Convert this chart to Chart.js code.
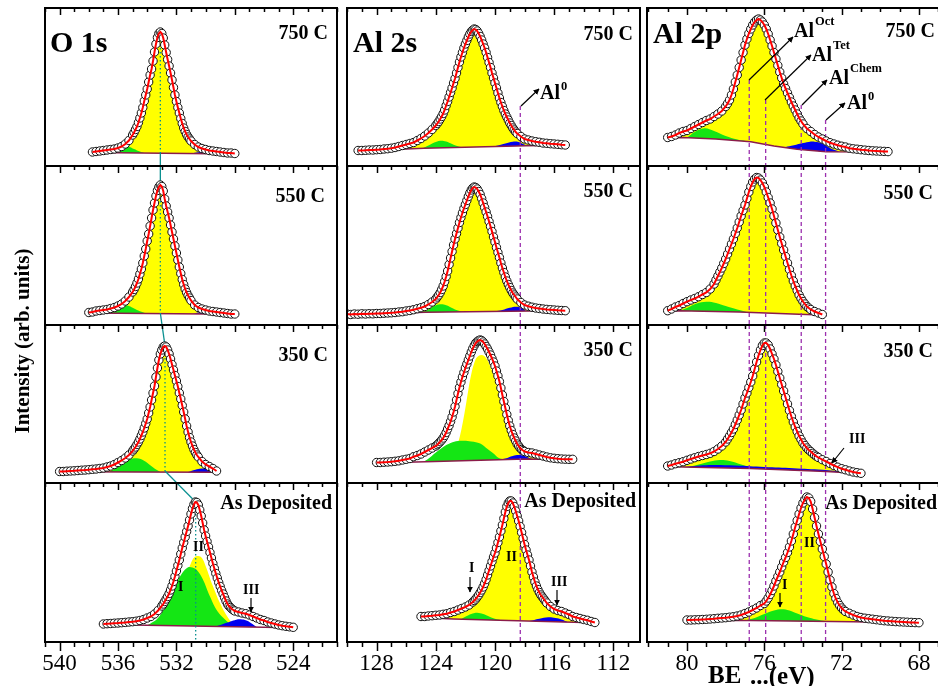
<!DOCTYPE html>
<html>
<head>
<meta charset="utf-8">
<title>XPS O 1s / Al 2s / Al 2p</title>
<script src="https://cdn.jsdelivr.net/npm/chart.js@4.4.0/dist/chart.umd.min.js"></script>
<style>
  body { margin: 0; background: #fff; overflow: hidden; }
  #fig { position: relative; width: 938px; height: 686px; overflow: hidden; background: #fff;
         font-family: "Liberation Serif", "Times New Roman", serif; }
  #fig canvas { position: absolute; }
  .t { position: absolute; font-weight: bold; line-height: 1; white-space: nowrap; color: #000; font-size: 20px; z-index: 5; }
  .n { font-size: 14px; }
  .sup { font-size: 12.5px; position: relative; margin-left: 1px; }
</style>
</head>
<body>
<div id="fig">
  <div class="t" style="left:50px;top:27px;font-size:30px">O 1s</div>
  <div class="t" style="left:353px;top:27px;font-size:30px">Al 2s</div>
  <div class="t" style="left:653px;top:18px;font-size:30px">Al 2p</div>

  <div class="t" style="right:610px;top:21.5px">750 C</div>
  <div class="t" style="right:305px;top:22.5px">750 C</div>
  <div class="t" style="right:3px;top:20px">750 C</div>
  <div class="t" style="right:613px;top:184.5px">550 C</div>
  <div class="t" style="right:305px;top:179.5px">550 C</div>
  <div class="t" style="right:5px;top:181.5px">550 C</div>
  <div class="t" style="right:610px;top:343.5px">350 C</div>
  <div class="t" style="right:305px;top:338.5px">350 C</div>
  <div class="t" style="right:5px;top:339.5px">350 C</div>
  <div class="t" style="right:606px;top:491.5px">As Deposited</div>
  <div class="t" style="right:302px;top:489.5px">As Deposited</div>
  <div class="t" style="right:1px;top:491.5px">As Deposited</div>

  <div class="t" style="left:540px;top:81.5px">Al<span class="sup" style="top:-9px">0</span></div>
  <div class="t" style="left:794px;top:19.5px">Al<span class="sup" style="top:-11.5px">Oct</span></div>
  <div class="t" style="left:812px;top:43.5px">Al<span class="sup" style="top:-12px">Tet</span></div>
  <div class="t" style="left:829px;top:66.5px">Al<span class="sup" style="top:-12px">Chem</span></div>
  <div class="t" style="left:847px;top:91.5px">Al<span class="sup" style="top:-9px">0</span></div>

  <div class="t n" style="left:193px;top:539.5px">II</div>
  <div class="t n" style="left:178px;top:579.5px">I</div>
  <div class="t n" style="left:243px;top:582.5px">III</div>
  <div class="t n" style="left:469px;top:560.5px">I</div>
  <div class="t n" style="left:506px;top:549.5px">II</div>
  <div class="t n" style="left:551px;top:574.5px">III</div>
  <div class="t n" style="left:804px;top:535.5px">II</div>
  <div class="t n" style="left:782px;top:577.5px">I</div>
  <div class="t n" style="left:849px;top:431.5px">III</div>

  <div class="t" style="left:22px;top:341px;font-size:21px;transform:translate(-50%,-50%) rotate(-90deg)">Intensity (arb. units)</div>
  <div class="t" style="left:708px;top:662px;font-size:25px">BE</div>
  <div class="t" style="left:750px;top:662.5px;font-size:25px">...(eV)</div>

  <svg width="938" height="686" style="position:absolute;left:0;top:0;z-index:4">
    <defs>
      <marker id="ah" viewBox="0 0 10 10" refX="9" refY="5" markerWidth="5" markerHeight="5" orient="auto">
        <path d="M0,0 L10,5 L0,10 z" fill="#000"/>
      </marker>
    </defs>
    <g stroke="#000" stroke-width="1.2" marker-end="url(#ah)">
      <line x1="521" y1="106" x2="539" y2="89"/>
      <line x1="749" y1="80" x2="793" y2="37"/>
      <line x1="765" y1="100" x2="811" y2="55"/>
      <line x1="802" y1="105" x2="827" y2="80"/>
      <line x1="826" y1="120" x2="845" y2="103"/>
      <line x1="251" y1="598" x2="251" y2="612"/>
      <line x1="470" y1="577" x2="470" y2="592"/>
      <line x1="557" y1="590" x2="557" y2="605"/>
      <line x1="780" y1="593" x2="780" y2="607"/>
      <line x1="844" y1="448" x2="832" y2="463"/>
    </g>
  </svg>
</div>
<script>
// binding energy grids (eV): coarse over the whole scan, fine over the peak flanks
const O1S_E = [540, 539.75, 539.5, 539.25, 539, 538.75, 538.5, 538.25, 538, 537.75, 537.5, 537.25, 537, 536.75, 536.5, 536.25,
  536, 535.75, 535.5, 535.25, 535, 534.75, 534.5, 534.25, 534, 533.75, 533.5, 533.25, 533, 532.75, 532.5, 532.25, 532, 531.75,
  531.5, 531.25, 531, 530.75, 530.5, 530.25, 530, 529.75, 529.5, 529.25, 529, 528.75, 528.5, 528.25, 528, 527.75, 527.5, 527.25,
  527, 526.75, 526.5, 526.25, 526, 525.75, 525.5, 525.25, 525, 524.75, 524.5, 524.25, 524];
const O1S_FINE_E = [535, 534.9, 534.8, 534.7, 534.6, 534.5, 534.4, 534.3, 534.2, 534.1, 534, 533.9, 533.8, 533.7, 533.6, 533.5,
  533.4, 533.3, 533.2, 533.1, 533, 532.9, 532.8, 532.7, 532.6, 532.5, 532.4, 532.3, 532.2, 532.1, 532, 531.9, 531.8, 531.7, 531.6,
  531.5, 531.4, 531.3, 531.2, 531.1, 531, 530.9, 530.8, 530.7, 530.6, 530.5, 530.4, 530.3, 530.2, 530.1, 530, 529.9, 529.8, 529.7,
  529.6, 529.5, 529.4, 529.3, 529.2, 529.1, 529, 528.9, 528.8, 528.7, 528.6, 528.5, 528.4, 528.3, 528.2, 528.1, 528];
const AL2S_E = [130, 129.75, 129.5, 129.25, 129, 128.75, 128.5, 128.25, 128, 127.75, 127.5, 127.25, 127, 126.75, 126.5, 126.25,
  126, 125.75, 125.5, 125.25, 125, 124.75, 124.5, 124.25, 124, 123.75, 123.5, 123.25, 123, 122.75, 122.5, 122.25, 122, 121.75,
  121.5, 121.25, 121, 120.75, 120.5, 120.25, 120, 119.75, 119.5, 119.25, 119, 118.75, 118.5, 118.25, 118, 117.75, 117.5, 117.25,
  117, 116.75, 116.5, 116.25, 116, 115.75, 115.5, 115.25, 115, 114.75, 114.5, 114.25, 114, 113.75, 113.5, 113.25, 113];
const AL2S_FINE_E = [124, 123.9, 123.8, 123.7, 123.6, 123.5, 123.4, 123.3, 123.2, 123.1, 123, 122.9, 122.8, 122.7, 122.6, 122.5,
  122.4, 122.3, 122.2, 122.1, 122, 121.9, 121.8, 121.7, 121.6, 121.5, 121.4, 121.3, 121.2, 121.1, 121, 120.9, 120.8, 120.7, 120.6,
  120.5, 120.4, 120.3, 120.2, 120.1, 120, 119.9, 119.8, 119.7, 119.6, 119.5, 119.4, 119.3, 119.2, 119.1, 119, 118.9, 118.8, 118.7,
  118.6, 118.5, 118.4, 118.3, 118.2, 118.1, 118, 117.9, 117.8, 117.7, 117.6, 117.5, 117.4, 117.3, 117.2, 117.1, 117, 116.9, 116.8,
  116.7, 116.6, 116.5];
const AL2P_E = [81, 80.8, 80.6, 80.4, 80.2, 80, 79.8, 79.6, 79.4, 79.2, 79, 78.8, 78.6, 78.4, 78.2, 78, 77.8, 77.6, 77.4, 77.2,
  77, 76.8, 76.6, 76.4, 76.2, 76, 75.8, 75.6, 75.4, 75.2, 75, 74.8, 74.6, 74.4, 74.2, 74, 73.8, 73.6, 73.4, 73.2, 73, 72.8, 72.6,
  72.4, 72.2, 72, 71.8, 71.6, 71.4, 71.2, 71, 70.8, 70.6, 70.4, 70.2, 70, 69.8, 69.6, 69.4, 69.2, 69, 68.8, 68.6, 68.4, 68.2, 68];
const AL2P_FINE_E = [78.6, 78.5, 78.4, 78.3, 78.2, 78.1, 78, 77.9, 77.8, 77.7, 77.6, 77.5, 77.4, 77.3, 77.2, 77.1, 77, 76.9, 76.8,
  76.7, 76.6, 76.5, 76.4, 76.3, 76.2, 76.1, 76, 75.9, 75.8, 75.7, 75.6, 75.5, 75.4, 75.3, 75.2, 75.1, 75, 74.9, 74.8, 74.7, 74.6,
  74.5, 74.4, 74.3, 74.2, 74.1, 74, 73.9, 73.8, 73.7, 73.6, 73.5, 73.4, 73.3, 73.2, 73.1, 73, 72.9, 72.8, 72.7, 72.6, 72.5, 72.4,
  72.3, 72.2, 72.1, 72, 71.9, 71.8];

const O1S_TICKS = [540, 536, 532, 528, 524];
const AL2S_TICKS = [128, 124, 120, 116, 112];
const AL2P_TICKS = [80, 76, 72, 68];

// measured spectra (intensity, arb. units): coarse scan and fine peak region, each from the given energy
const O1S_750_FROM = 537.75;
const O1S_750 = [14, 14.5, 15, 15.5, 16, 16.5, 17, 18, 19.5, 22, 25.5, 31, 38, 48, 61, 77, 95, 114, 131, 133, 118, 100, 82, 65,
  50, 38, 30, 25, 21.5, 19, 17.5, 16.5, 15.5, 15, 14.5, 14, 13.5, 13, 13, 12.5];
const O1S_750_CORE_FROM = 535;
const O1S_750_CORE = [31, 33.5, 36.5, 39.5, 43.5, 48, 53, 58.5, 65, 71, 77, 84, 91, 97, 105, 114, 122, 128.5, 132.5, 134, 132.5,
  128, 121, 113.5, 106.5, 100, 93, 86, 78.5, 71, 64.5, 58.5, 53, 47.5, 42.5, 38, 34.5, 31.5, 29, 27, 25];
const O1S_550_FROM = 538;
const O1S_550 = [12.5, 13, 14, 14.5, 15, 15.5, 16.5, 17.5, 19, 21, 24, 28, 33, 40, 51, 66, 84, 103, 122, 135, 139, 122, 109, 93,
  75, 57, 42, 31, 24, 20, 17.5, 16, 15, 14, 13.5, 13, 12.5, 12, 11.5, 11, 11];
const O1S_550_CORE_FROM = 535;
const O1S_550_CORE = [33, 35.5, 38.5, 42, 46, 51, 56, 62, 69, 76, 84, 91, 99, 107, 115, 122, 129, 134.5, 138, 140, 138.5, 134,
  126, 119, 113, 107, 100, 93, 86, 79, 72, 65, 58, 51.5, 45.5, 40.5, 36, 32.5, 29.5, 27, 24.5];
const O1S_350_FROM = 540;
const O1S_350 = [11.5, 11.5, 11.8, 12, 12.2, 12.5, 12.8, 13, 13.3, 13.7, 14, 14.5, 15, 16, 17, 18.5, 20.5, 22.5, 25, 28, 32, 37,
  44, 53, 64, 79, 96, 120, 132, 137, 128, 116, 102, 88, 71, 54, 41, 32, 26, 21.5, 18.5, 16.5, 14.5, 12];
const O1S_350_CORE_FROM = 535;
const O1S_350_CORE = [32, 34, 36, 38.5, 41, 44, 47.5, 51, 55, 59.5, 64, 70, 76, 83, 90, 97, 106, 115, 123, 129, 133, 136, 137,
  136, 133, 129, 124, 118.5, 113, 107.5, 102, 96.5, 90, 84, 77.5, 71, 64, 57, 51, 45.5, 41, 37, 33.5, 30.5, 28, 26];
const O1S_AD_FROM = 537;
const O1S_AD = [18, 18.3, 18.5, 18.8, 19, 19.3, 19.6, 20, 20.3, 20.8, 21.5, 22.5, 24, 25.5, 28, 31.5, 36, 41.5, 48.5, 58, 71, 85,
  99, 112, 128, 139, 138, 124, 106, 92, 78, 66, 56, 46, 38, 33.5, 31, 30, 29, 28.3, 27, 25.5, 24, 22.5, 21.5, 20, 19, 18, 17,
  16.3, 15.7, 15.2, 14.7];
const O1S_AD_CORE_FROM = 533;
const O1S_AD_CORE = [36, 38, 40.5, 43, 45.5, 48.5, 52, 56, 60.5, 65.5, 71, 76.5, 82, 88, 94, 99.5, 105, 110.5, 116, 122, 128,
  133.5, 137.5, 140, 139.5, 137, 132, 126, 119, 112, 106, 100.5, 95, 89.5, 84, 78.5, 73.5, 68.5, 64, 59.5, 55.5, 51.5, 48, 44.5,
  41, 38, 36, 34.5, 33, 32, 31];

const AL2S_750_FROM = 129.25;
const AL2S_750 = [15.5, 15.5, 15.7, 16, 16, 16.3, 16.5, 17, 17.3, 17.8, 18.5, 19.5, 20.5, 21.5, 22.5, 23.5, 25.5, 27.5, 30, 33,
  36.5, 40.5, 45, 52, 62, 74, 85, 98, 111, 121, 130, 135, 136, 130, 122, 113, 97, 83, 70, 60, 50, 43, 37, 32.5, 29.5, 27, 26, 25,
  24.3, 23.7, 23, 22.7, 22.3, 22, 21.7, 21.3, 21];
const AL2S_750_CORE_FROM = 124;
const AL2S_750_CORE = [40.5, 42.5, 44.5, 47, 49.5, 52.5, 56, 60.5, 64.5, 69, 73.5, 78, 83, 87.5, 93, 98.5, 104, 109, 113.5, 118,
  122, 125.5, 129, 132, 134.5, 136, 137, 136.5, 135, 132.5, 129.5, 126, 122, 118, 113.5, 108.5, 103.5, 98.5, 93, 88, 83, 78, 73,
  68, 63.5, 59.5, 55.5, 52, 49, 46, 43, 40.5, 38, 36, 34, 32.5];
const AL2S_550_FROM = 130;
const AL2S_550 = [11, 10.5, 11, 10.8, 11.2, 11, 11.3, 11.2, 11.5, 11.5, 11.8, 12, 12.2, 12.5, 13, 13.3, 14, 14.5, 15.3, 16.3,
  17.3, 18.5, 20.5, 23, 26, 31, 39, 51, 67, 83, 97, 110, 120, 130, 136, 137, 131, 121, 109, 96, 83, 70, 57, 46, 37.5, 31, 26,
  22.5, 20, 18.8, 17.8, 17, 16.5, 16, 15.6, 15.3, 15, 14.7, 14.5, 14.3];
const AL2S_550_CORE_FROM = 124;
const AL2S_550_CORE = [26, 28, 30, 32.5, 35.5, 39, 43.5, 48.5, 54, 60.5, 67, 73.5, 80, 86, 91.5, 97, 102.5, 107.5, 112, 116.5,
  120.5, 124.5, 128.5, 132, 135, 137, 138, 137.5, 136, 133.5, 130.5, 126.5, 122, 117.5, 113, 108.5, 103.5, 98.5, 93.5, 88, 83,
  77.5, 72.5, 67.5, 62, 57, 52.5, 48, 44, 40.5, 37.5, 34.5, 32, 30, 28, 26];
const AL2S_350_FROM = 128;
const AL2S_350 = [20.5, 20.5, 20.8, 21, 21.3, 21.7, 22.2, 23, 23.7, 24.5, 26.3, 27.5, 29, 31, 33, 35, 37, 40.5, 45, 52, 61, 72,
  89, 103, 114, 125, 134, 140, 143, 140, 134, 127, 117, 105, 87, 72, 57, 46, 38, 33.5, 31.5, 30.5, 30, 29, 28, 27, 26, 25.2, 24.7,
  24.3, 24, 23.8, 23.7, 23.7];
const AL2S_350_CORE_FROM = 124;
const AL2S_350_CORE = [37, 38.3, 39.7, 41.3, 43, 45, 47.5, 50.5, 54, 57.5, 61.5, 66, 71, 76.5, 83, 89.5, 95.5, 101, 106, 110.5,
  115, 119, 123, 127, 131, 134.5, 137.5, 140, 141.5, 142.5, 143, 142.5, 141, 139, 136.5, 134, 131, 128, 124.5, 121, 117, 112,
  107, 101.5, 95, 88, 81.5, 75, 68.5, 62.5, 57, 52.5, 48.5, 45, 42, 39, 37, 35, 33.5, 32.5, 31.5];
const AL2S_AD_FROM = 125;
const AL2S_AD = [25.5, 25.5, 26, 26.3, 26.7, 27, 27.7, 28.3, 29.5, 30.5, 32, 33.5, 35, 37, 40, 44, 49, 57, 67, 78, 89, 102, 118,
  133, 141, 138, 126, 113, 97, 85, 70, 58, 50, 44, 39, 35.5, 33, 31.5, 30.5, 29, 27.5, 25.5, 24.5, 23.5, 22.5, 21.7, 20.5, 19.5];
const AL2S_AD_CORE_FROM = 121.5;
const AL2S_AD_CORE = [40, 41.5, 43, 45, 47, 49.5, 52, 55, 58.5, 62.5, 67, 71.5, 76, 80.5, 85, 89, 94, 99.5, 105, 111, 117, 123.5,
  130, 135.5, 139, 141, 141, 139, 135.5, 131, 126, 121, 115.5, 109.5, 103.5, 97.5, 92, 87, 82, 76, 70, 65, 60, 56, 52.5, 49.5,
  47, 45, 43, 41, 39];

const AL2P_750_FROM = 81;
const AL2P_750 = [28.5, 29.5, 31, 33, 34.5, 35.5, 37.5, 39.5, 41.5, 43.5, 45.5, 47, 49.5, 52, 55, 59.5, 66, 77, 91, 106, 121,
  132, 141, 146, 146, 141, 132, 120, 107, 94, 82, 73, 64, 56, 48, 42, 37.5, 34.5, 31.5, 29, 27, 25, 23.3, 22, 20.8, 19.8, 19,
  17.8, 17.2, 16.8, 16.3, 15.9, 15.5, 15.2, 15, 14.8, 14.6, 14.4];
const AL2P_750_CORE_FROM = 78;
const AL2P_750_CORE = [59.5, 62.5, 66, 71, 77, 84, 91, 98.5, 106, 113.5, 121, 127, 132.5, 137, 141, 144, 146, 147, 146, 144, 141,
  137, 132, 126, 120, 113.5, 107, 100.5, 94, 88, 82, 77.5, 73, 68.5, 64, 60, 56, 52, 48, 45, 42];
const AL2P_550_FROM = 81;
const AL2P_550 = [14.3, 16, 18, 19.5, 21.5, 23.3, 25, 26.5, 28.3, 30.5, 32.5, 36, 41, 49, 57, 66, 76, 86, 97, 109, 120, 133, 143,
  147, 145, 138, 127, 116, 101, 88, 75, 62, 49, 39, 30, 23.5, 18.5, 15.5, 13.5, 12, 10.5];
const AL2P_550_CORE_FROM = 78.6;
const AL2P_550_CORE = [41, 45, 49, 53, 57, 61.5, 66, 71, 76, 81, 86, 91.5, 97, 103, 109, 114.5, 120, 126.5, 133, 138.5, 143, 146,
  147.5, 147, 145, 142, 138, 133, 127.5, 122, 116, 109, 102, 95, 88, 81.5, 75, 68.5, 62, 55.5, 49.5, 44, 39, 34.5, 30, 26.5,
  23.5, 21, 18.5, 17, 15.5];
const AL2P_350_FROM = 81;
const AL2P_350 = [17, 18, 19.3, 20.3, 21.3, 22.7, 24, 25.3, 26.5, 27.5, 28.5, 29.7, 31.5, 34, 37, 41, 47, 54, 63, 73, 85, 95, 107,
  121, 133, 140, 137, 128, 118, 105, 92, 79, 66, 56, 47, 40, 35, 31.5, 28, 25.5, 23.3, 21.5, 19.5, 17.5, 15.8, 14.3, 13.2, 12, 11,
  10.3, 9.7];
const AL2P_350_CORE_FROM = 78;
const AL2P_350_CORE = [41, 44, 47, 50.5, 54, 58.5, 63, 68, 73, 79, 85, 90, 95.5, 101, 107, 114, 121, 127.5, 133, 137.5, 140, 140,
  138, 134, 129, 124, 118, 111.5, 105, 98.5, 92, 85.5, 79, 72.5, 66.5, 61, 56, 51.5, 47, 43.5, 40, 37.5, 35, 33, 31.5, 29.7, 28,
  26.7, 25.5];
const AL2P_AD_FROM = 80;
const AL2P_AD = [22, 22, 22.2, 22.3, 22.5, 22.7, 23, 23.3, 23.7, 24, 24.3, 24.8, 25.3, 26, 27, 28.5, 30, 32, 34, 36.5, 38.5, 44,
  51, 61, 70, 80, 89, 101, 115, 128, 139, 145, 140, 124, 108, 93, 78, 62, 48, 39, 33.5, 30.5, 28.7, 27, 25.5, 24.5, 23.8, 23.3,
  22.8, 22.3, 21.8, 21.3, 21, 20.7, 20.4, 20.2, 20, 19.8, 19.6, 19.4, 19.3];
const AL2P_AD_CORE_FROM = 76;
const AL2P_AD_CORE = [38.5, 41, 44, 47.5, 51.5, 56, 61, 65.5, 70, 75, 80, 84.5, 89.5, 95, 101, 108, 115, 121.5, 128, 134, 139,
  142.5, 145, 144, 140.5, 133, 124.5, 116, 108, 100.5, 93, 85.5, 78, 70, 62, 55, 48.5, 43.5, 39.5, 36.5, 34, 32, 30.5];

// fitted background and components, [energy, intensity]
const O1S_750_BASE = [[537.75, 13.5], [528, 12]];
const O1S_750_GREEN = [[536.7, 13.3], [536.3, 16], [535.95, 19], [535.6, 20.3], [535.25, 19.3], [534.9, 17], [534.55, 14.8], [534.2, 13]];
const O1S_750_BLUE = [[531, 12.5], [530.5, 13.8], [530.1, 14.2], [529.7, 13.6], [529.3, 12.3]];
const O1S_550_BASE = [[538, 12], [528, 10.8]];
const O1S_550_GREEN = [[536.6, 11.8], [536.25, 15.5], [535.95, 18.5], [535.6, 20], [535.25, 19], [534.9, 16.5], [534.5, 13.8], [534.1, 11.7]];
const O1S_550_BLUE = [[530.9, 11.2], [530.4, 12.8], [530, 13], [529.6, 12.3], [529.3, 11.1]];
const O1S_350_BASE = [[540, 11.2], [529.25, 10.8]];
const O1S_350_GREEN = [[536.6, 11.1], [536.2, 14.5], [535.8, 18.5], [535.4, 22.5], [535, 24.5], [534.7, 24.7], [534.3, 23], [533.9, 19], [533.5, 14.5], [533.1, 11]];
const O1S_350_BLUE = [[531.2, 10.9], [530.7, 13.2], [530.3, 14.5], [529.9, 14], [529.5, 12.5], [529.25, 11.5]];
const O1S_AD_BASE = [[537, 17.5], [524, 14.3]];
const O1S_AD_YELLOW = [[533.6, 16.9], [533, 21], [532.5, 27], [532, 38], [531.6, 53], [531.3, 67], [531, 79], [530.75, 85], [530.5, 86],
  [530.25, 84], [530, 76], [529.5, 56], [529, 38.5], [528.45, 24], [528.1, 18], [527.8, 15.8]];
const O1S_AD_GREEN = [[534.2, 16.8], [533.9, 17.5], [533.2, 25], [532.6, 41], [532, 58.5], [531.6, 69], [531.2, 74.7], [530.9, 74.5],
  [530.6, 72], [530.2, 63], [529.7, 45.5], [529.2, 31], [528.6, 21.5], [528.1, 15.3]];
const O1S_AD_BLUE = [[529.3, 15.6], [528.8, 18], [528.3, 20.5], [527.9, 22.3], [527.6, 22.7], [527.2, 21.5], [526.9, 19], [526.5, 14.9]];

const AL2S_750_BASE = [[129.25, 15], [124.8, 17.7], [117.9, 20.3], [115.25, 20.8]];
const AL2S_750_GREEN = [[124.9, 17.6], [124.5, 20.5], [124.1, 23.5], [123.7, 25.3], [123.3, 24.5], [122.9, 22], [122.5, 19.8], [122.1, 18.7]];
const AL2S_750_BLUE = [[120.4, 19.3], [119.8, 20.5], [119.3, 22.5], [118.8, 24.3], [118.4, 24], [118.1, 22], [117.8, 20.3]];
const AL2S_550_BASE = [[130, 10.5], [124.7, 12.8], [117.6, 14], [115.25, 14.1]];
const AL2S_550_GREEN = [[124.9, 12.7], [124.5, 15.5], [124.1, 19], [123.7, 20.7], [123.3, 19.8], [122.9, 17], [122.5, 14.5], [122, 13.2]];
const AL2S_550_BLUE = [[120, 13.5], [119.5, 15], [119, 17.2], [118.55, 18.3], [118.2, 17], [117.9, 14]];
const AL2S_350_BASE = [[128, 20], [124.7, 21.3], [117.9, 24], [114.75, 23.5]];
const AL2S_350_YELLOW = [[123.2, 22], [122.8, 30], [122.5, 40], [122.25, 55], [122, 75], [121.8, 93], [121.6, 109], [121.4, 120],
  [121.2, 126], [120.9, 128], [120.6, 125], [120.3, 116], [120, 104], [119.7, 90], [119.4, 74], [119.1, 57], [118.8, 44], [118.5, 35],
  [118.2, 30], [117.9, 27.5], [117.5, 25.5], [117, 24.5], [116.5, 24], [116, 23.8]];
const AL2S_350_GREEN = [[124.8, 21.3], [124.4, 25.5], [124, 30.5], [123.5, 36], [123, 40], [122.5, 42], [122.1, 42.3], [121.6, 41.5],
  [121, 39.5], [120.5, 34], [120.1, 29.5], [119.8, 25.5], [119.4, 23.4]];
const AL2S_350_BLUE = [[119.9, 23.2], [119.3, 24.5], [118.8, 27], [118.4, 28], [118, 27], [117.5, 24]];
const AL2S_AD_BASE = [[125, 24.5], [122.8, 23], [114.7, 19.7], [113.25, 19.2]];
const AL2S_AD_GREEN = [[122.3, 22.8], [121.9, 26], [121.5, 28.5], [121.2, 29.3], [120.8, 28], [120.4, 25.5], [120, 23.2], [119.6, 21.7]];
const AL2S_AD_BLUE = [[117.7, 20.9], [117, 23.3], [116.4, 24.7], [115.9, 24], [115.5, 22.5], [115.1, 19.9]];

const AL2P_750_BASE = [[81, 28], [80.2, 28.5], [78.5, 27], [76.7, 24.3], [75.5, 20], [74.3, 16.7], [72.8, 14.3], [69.6, 14]];
const AL2P_750_GREEN = [[80, 28.3], [79.6, 34], [79.1, 37.7], [78.6, 35], [78, 30], [77.4, 26.5], [76.8, 24.5]];
const AL2P_750_BLUE = [[75, 18.6], [74.6, 20.2], [74.1, 22.5], [73.7, 24], [73.4, 24.3], [73, 22.5], [72.6, 18], [72.1, 14.2]];
const AL2P_550_BASE = [[81, 14], [80.4, 14.2], [77.3, 13], [74.2, 10.7], [73, 10]];
const AL2P_550_GREEN = [[80.4, 14.2], [80, 17], [79.5, 21.5], [79, 23.3], [78.5, 22], [78, 19], [77.4, 15.5], [76.8, 12.6]];
const AL2P_550_BLUE = [];
const AL2P_350_BASE = [[81, 16.5], [80.2, 16], [76.7, 14.5], [72.8, 11.5], [71, 9.5]];
const AL2P_350_GREEN = [[79.9, 16], [79.4, 18.5], [78.8, 21.5], [78.3, 23], [77.8, 22], [77.2, 18.5], [76.7, 15.5]];
const AL2P_350_BLUE = [[80.2, 16], [79, 17.8], [77.5, 17.5], [76, 16], [74.5, 14.8], [73, 13.2], [72.4, 12.2], [71.8, 10.8]];
const AL2P_AD_BASE = [[80, 21.5], [76.7, 21.5], [71.4, 20.3], [68, 19]];
const AL2P_AD_GREEN = [[77, 21.5], [76.5, 24], [76, 28], [75.5, 31.5], [75.1, 32.7], [74.7, 31.5], [74.3, 28.5], [73.8, 25], [73.3, 22.5], [72.8, 20.8]];
const AL2P_AD_BLUE = [];

// guide lines: O 1s peak tracking, Al reference energies
const O1S_PEAK_DOTS = [[[533.1, 134], [533.1, 14]], [[533.1, 140], [533.1, 12]], [[532.78, 137], [532.78, 12]], [[530.68, 140], [530.68, 0]]];
const O1S_LINKS = [[0, 533.1, 14, 1, 533.1, 140], [1, 533.1, 12, 2, 532.78, 137], [2, 532.78, 12, 3, 530.68, 140]];
const AL2S_MARKERS = [118.29];
const AL2S_MARKER_TOP = [60];
const AL2P_MARKERS = [76.78, 75.93, 74.09, 72.83];
const AL2P_MARKER_TOP = [86, 66, 61, 46];

const PAD = 20;
const AXIS_H = 44;
const FONT = "'Liberation Serif', 'Times New Roman', serif";
const YELLOW = '#ffff00', GREEN = '#14e614', BLUE = '#0000f0', RED = '#ff0000';
const BASE_COLOR = '#8b1c4a', TEAL = '#0a9090', PURPLE = '#9b2fae';

const COLUMNS = [
    { left: 45, width: 292, min: 521, max: 541, energy: O1S_E, fine: O1S_FINE_E, ticks: O1S_TICKS },
    { left: 347, width: 293, min: 110.2, max: 130, energy: AL2S_E, fine: AL2S_FINE_E, ticks: AL2S_TICKS },
    { left: 647, width: 293, min: 66.91, max: 82.07, energy: AL2P_E, fine: AL2P_FINE_E, ticks: AL2P_TICKS }
];
const ROWS = [{ top: 8, height: 158 }, { top: 166, height: 159 }, { top: 325, height: 158 }, { top: 483, height: 159 }];

const PANELS = [
    { col: 0, row: 0, from: O1S_750_FROM, y: O1S_750, coreFrom: O1S_750_CORE_FROM, core: O1S_750_CORE,
      base: O1S_750_BASE, green: O1S_750_GREEN, blue: O1S_750_BLUE },
    { col: 0, row: 1, from: O1S_550_FROM, y: O1S_550, coreFrom: O1S_550_CORE_FROM, core: O1S_550_CORE,
      base: O1S_550_BASE, green: O1S_550_GREEN, blue: O1S_550_BLUE },
    { col: 0, row: 2, from: O1S_350_FROM, y: O1S_350, coreFrom: O1S_350_CORE_FROM, core: O1S_350_CORE,
      base: O1S_350_BASE, green: O1S_350_GREEN, blue: O1S_350_BLUE },
    { col: 0, row: 3, from: O1S_AD_FROM, y: O1S_AD, coreFrom: O1S_AD_CORE_FROM, core: O1S_AD_CORE,
      base: O1S_AD_BASE, green: O1S_AD_GREEN, blue: O1S_AD_BLUE, yellow: O1S_AD_YELLOW },
    { col: 1, row: 0, from: AL2S_750_FROM, y: AL2S_750, coreFrom: AL2S_750_CORE_FROM, core: AL2S_750_CORE,
      base: AL2S_750_BASE, green: AL2S_750_GREEN, blue: AL2S_750_BLUE },
    { col: 1, row: 1, from: AL2S_550_FROM, y: AL2S_550, coreFrom: AL2S_550_CORE_FROM, core: AL2S_550_CORE,
      base: AL2S_550_BASE, green: AL2S_550_GREEN, blue: AL2S_550_BLUE },
    { col: 1, row: 2, from: AL2S_350_FROM, y: AL2S_350, coreFrom: AL2S_350_CORE_FROM, core: AL2S_350_CORE,
      base: AL2S_350_BASE, green: AL2S_350_GREEN, blue: AL2S_350_BLUE, yellow: AL2S_350_YELLOW },
    { col: 1, row: 3, from: AL2S_AD_FROM, y: AL2S_AD, coreFrom: AL2S_AD_CORE_FROM, core: AL2S_AD_CORE,
      base: AL2S_AD_BASE, green: AL2S_AD_GREEN, blue: AL2S_AD_BLUE },
    { col: 2, row: 0, from: AL2P_750_FROM, y: AL2P_750, coreFrom: AL2P_750_CORE_FROM, core: AL2P_750_CORE,
      base: AL2P_750_BASE, green: AL2P_750_GREEN, blue: AL2P_750_BLUE },
    { col: 2, row: 1, from: AL2P_550_FROM, y: AL2P_550, coreFrom: AL2P_550_CORE_FROM, core: AL2P_550_CORE,
      base: AL2P_550_BASE, green: AL2P_550_GREEN, blue: AL2P_550_BLUE },
    { col: 2, row: 2, from: AL2P_350_FROM, y: AL2P_350, coreFrom: AL2P_350_CORE_FROM, core: AL2P_350_CORE,
      base: AL2P_350_BASE, green: AL2P_350_GREEN, blue: AL2P_350_BLUE },
    { col: 2, row: 3, from: AL2P_AD_FROM, y: AL2P_AD, coreFrom: AL2P_AD_CORE_FROM, core: AL2P_AD_CORE,
      base: AL2P_AD_BASE, green: AL2P_AD_GREEN, blue: AL2P_AD_BLUE }
];

// panel frame plus inward ticks on top (and outward ticks under the bottom row)
const frame = {
    id: 'frame',
    afterDraw(chart, args, opts) {
        const { ctx, chartArea: a, scales: { x } } = chart;
        ctx.save();
        ctx.strokeStyle = '#000';
        ctx.lineWidth = 1.5;
        for (let v = Math.ceil(x.min); v <= x.max; v++) {
            const px = Math.round(x.getPixelForValue(v)) + 0.5;
            const major = v % 4 === 0;
            ctx.beginPath();
            ctx.moveTo(px, a.top);
            ctx.lineTo(px, a.top + (major ? 7 : 4));
            if (opts.bottom) {
                ctx.moveTo(px, a.bottom);
                ctx.lineTo(px, a.bottom + (major ? 9 : 5));
            }
            ctx.stroke();
        }
        ctx.lineWidth = 2;
        ctx.strokeRect(a.left, a.top, a.right - a.left, a.bottom - a.top);
        ctx.restore();
    }
};

function pairs(list) {
    return list.map(([x, y]) => ({ x, y }));
}

function run(energy, from, values) {
    const i0 = energy.indexOf(from);
    return values.map((y, i) => ({ x: energy[i0 + i], y }));
}

// coarse scan outside the peak region, fine scan inside it
function spectrum(col, p) {
    const core = run(col.fine, p.coreFrom, p.core);
    const hi = core[0].x, lo = core[core.length - 1].x;
    const outer = run(col.energy, p.from, p.y).filter(pt => pt.x > hi + 1e-6 || pt.x < lo - 1e-6);
    return outer.concat(core).sort((a, b) => b.x - a.x);
}

function guide(points, color, dash) {
    return {
        data: pairs(points), borderColor: color, borderWidth: 1.3, borderDash: dash,
        pointRadius: 0, fill: false, clip: 0, order: 2
    };
}

function guideSets(p) {
    const out = [];
    const h = ROWS[p.row].height;
    if (p.col === 0) {
        out.push(guide(O1S_PEAK_DOTS[p.row], TEAL, [1.5, 2.5]));
        O1S_LINKS.forEach(([r1, e1, h1, r2, e2, h2]) => {
            if (p.row === r1) out.push(guide([[e1, h1], [e2, h2 - ROWS[r2].height]], TEAL, []));
            if (p.row === r2) out.push(guide([[e1, h1 + h], [e2, h2]], TEAL, []));
        });
    } else {
        const marks = p.col === 1 ? AL2S_MARKERS : AL2P_MARKERS;
        const tops = p.col === 1 ? AL2S_MARKER_TOP : AL2P_MARKER_TOP;
        marks.forEach((e, i) => out.push(guide([[e, p.row === 0 ? tops[i] : h], [e, 0]], PURPLE, [4, 3])));
    }
    return out;
}

const fig = document.getElementById('fig');

PANELS.forEach(p => {
    const col = COLUMNS[p.col];
    const row = ROWS[p.row];
    const last = p.row === 3;

    const canvas = document.createElement('canvas');
    canvas.width = col.width + 2 * PAD;
    canvas.height = PAD + row.height + (last ? AXIS_H : PAD);
    canvas.style.left = (col.left - PAD) + 'px';
    canvas.style.top = (row.top - PAD) + 'px';
    fig.insertBefore(canvas, fig.firstChild);

    const spec = spectrum(col, p);
    const datasets = [
        { data: pairs(p.base), borderColor: BASE_COLOR, borderWidth: 1.5, pointRadius: 0, fill: false, order: 3 },
        { data: p.yellow ? pairs(p.yellow) : spec, backgroundColor: YELLOW, borderColor: 'transparent', borderWidth: 0,
          pointRadius: 0, fill: { target: 0 }, tension: p.yellow ? 0.4 : 0, order: 6 },
        { data: pairs(p.green), backgroundColor: GREEN, borderColor: 'transparent', borderWidth: 0,
          pointRadius: 0, fill: { target: 0 }, tension: 0.4, order: 5 }
    ];
    if (p.blue.length) {
        datasets.push({ data: pairs(p.blue), backgroundColor: BLUE, borderColor: 'transparent', borderWidth: 0,
            pointRadius: 0, fill: { target: 0 }, tension: 0.4, order: 4 });
    }
    datasets.push(...guideSets(p));
    datasets.push({ data: spec, showLine: false, pointRadius: 4.2, pointBorderWidth: 1,
        pointBackgroundColor: '#fff', pointBorderColor: '#111', order: 1 });
    datasets.push({ data: spec, borderColor: RED, borderWidth: 2, pointRadius: 0, fill: false, order: 0 });

    const xAxis = {
        type: 'linear', reverse: true, min: col.min, max: col.max,
        display: last, position: 'bottom',
        grid: { display: false, drawTicks: false },
        border: { display: false },
        ticks: { color: '#000', padding: 8, maxRotation: 0, autoSkip: false, font: { family: FONT, size: 23 } },
        afterBuildTicks: s => { s.ticks = col.ticks.map(v => ({ value: v })); }
    };
    if (last) xAxis.afterFit = s => { s.height = AXIS_H; };

    new Chart(canvas, {
        type: 'line',
        data: { datasets },
        options: {
            responsive: false,
            animation: false,
            devicePixelRatio: 1,
            events: [],
            layout: { padding: { left: PAD, right: PAD, top: PAD, bottom: last ? 0 : PAD } },
            scales: {
                x: xAxis,
                y: { type: 'linear', min: 0, max: row.height, display: false }
            },
            plugins: { legend: { display: false }, tooltip: { enabled: false }, frame: { bottom: last } }
        },
        plugins: [frame]
    });
});
</script>
</body>
</html>
